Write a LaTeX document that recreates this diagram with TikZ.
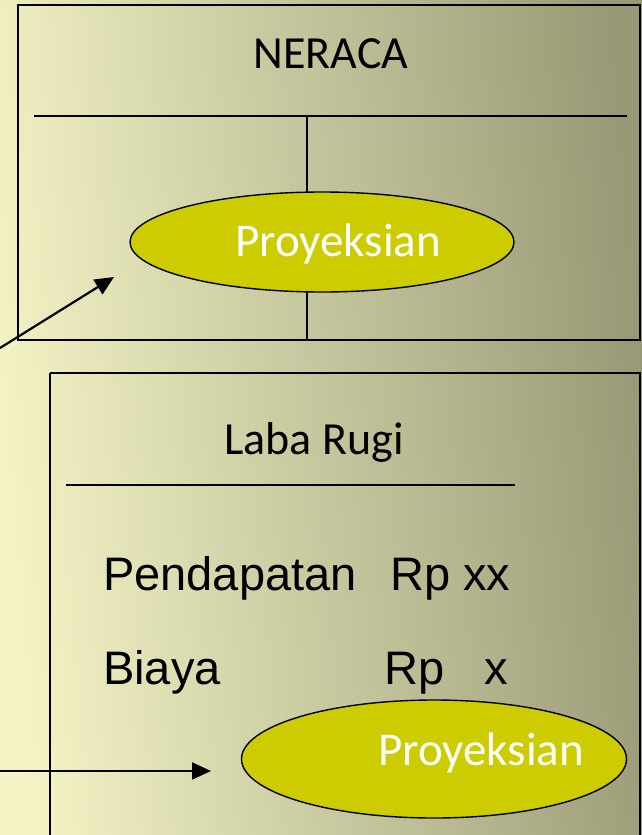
\documentclass[tikz,border=0pt]{standalone}
\usepackage{fontspec}
\setmainfont{Carlito}
\newfontfamily\arialf{Liberation Sans}
\usetikzlibrary{shapes.geometric,arrows.meta}
\definecolor{bgleft}{HTML}{F4F4C6}
\definecolor{bgright}{HTML}{989876}
\definecolor{ellfill}{HTML}{CCCC00}
\tikzset{
  boxline/.style={line width=1.9pt, draw=black},
  rule/.style={line width=2.2pt, draw=black},
  projell/.style={ellipse, draw=black, line width=1.4pt, fill=ellfill, inner sep=0pt},
  whitetxt/.style={text=white, font=\fontsize{47}{50}\selectfont, inner sep=0pt, anchor=base},
  titletxt/.style={text=black, font=\fontsize{46}{50}\selectfont, inner sep=0pt, anchor=base},
  rowtxt/.style={text=black, font=\arialf\fontsize{47}{50}\selectfont, inner sep=0pt, anchor=base west},
  arr/.style={line width=2.2pt, -{Triangle[length=19pt,width=17pt]}}
}
\begin{document}
\begin{tikzpicture}[x=1pt,y=-1pt]
\useasboundingbox (0,0) rectangle (642,835);
\clip (0,0) rectangle (642,835);
\shade[left color=bgleft, right color=bgright, shading angle=95] (0,0) rectangle (642,835);

% top box
\draw[boxline] (18,5) rectangle (640,340);
\node[titletxt] (neraca) at (331,68) {NERACA};
\coordinate (hlL) at (34,116);
\coordinate (hlR) at (627,116);
\coordinate (vtop) at (307,116);
\coordinate (vbot) at (307,340);
\draw[rule] (hlL) -- (hlR);
\draw[rule] (vtop) -- (vbot);
\node[projell, minimum width=384pt, minimum height=100pt] (ell1) at (322,242) {};
\node[whitetxt] (proj1) at (338,256) {Proyeksian};

% bottom box
\draw[boxline] (50,373) -- (640,373) -- (640,900) (50,373) -- (50,900);
\node[titletxt] (laba) at (314,454) {Laba Rugi};
\coordinate (lrL) at (66,485);
\coordinate (lrR) at (515,485);
\draw[rule] (lrL) -- (lrR);
\node[rowtxt] (pend) at (103,590) {Pendapatan};
\node[rowtxt] (rpxx) at (390,590) {Rp xx};
\node[rowtxt] (biaya) at (103,684) {Biaya};
\node[rowtxt] (rp2) at (384,684) {Rp};
\node[rowtxt] (x2) at (484,684) {x};
\node[projell, minimum width=385pt, minimum height=118pt] (ell2) at (434,759) {};
\node[whitetxt] (proj2) at (481,765) {Proyeksian};

% arrows
\coordinate (a1s) at (0,348);
\coordinate (a1e) at (114,277);
\draw[arr] (a1s) -- (a1e);
\coordinate (a2s) at (0,771);
\coordinate (a2e) at (211,771);
\draw[arr] (a2s) -- (a2e);
\end{tikzpicture}
\end{document}
